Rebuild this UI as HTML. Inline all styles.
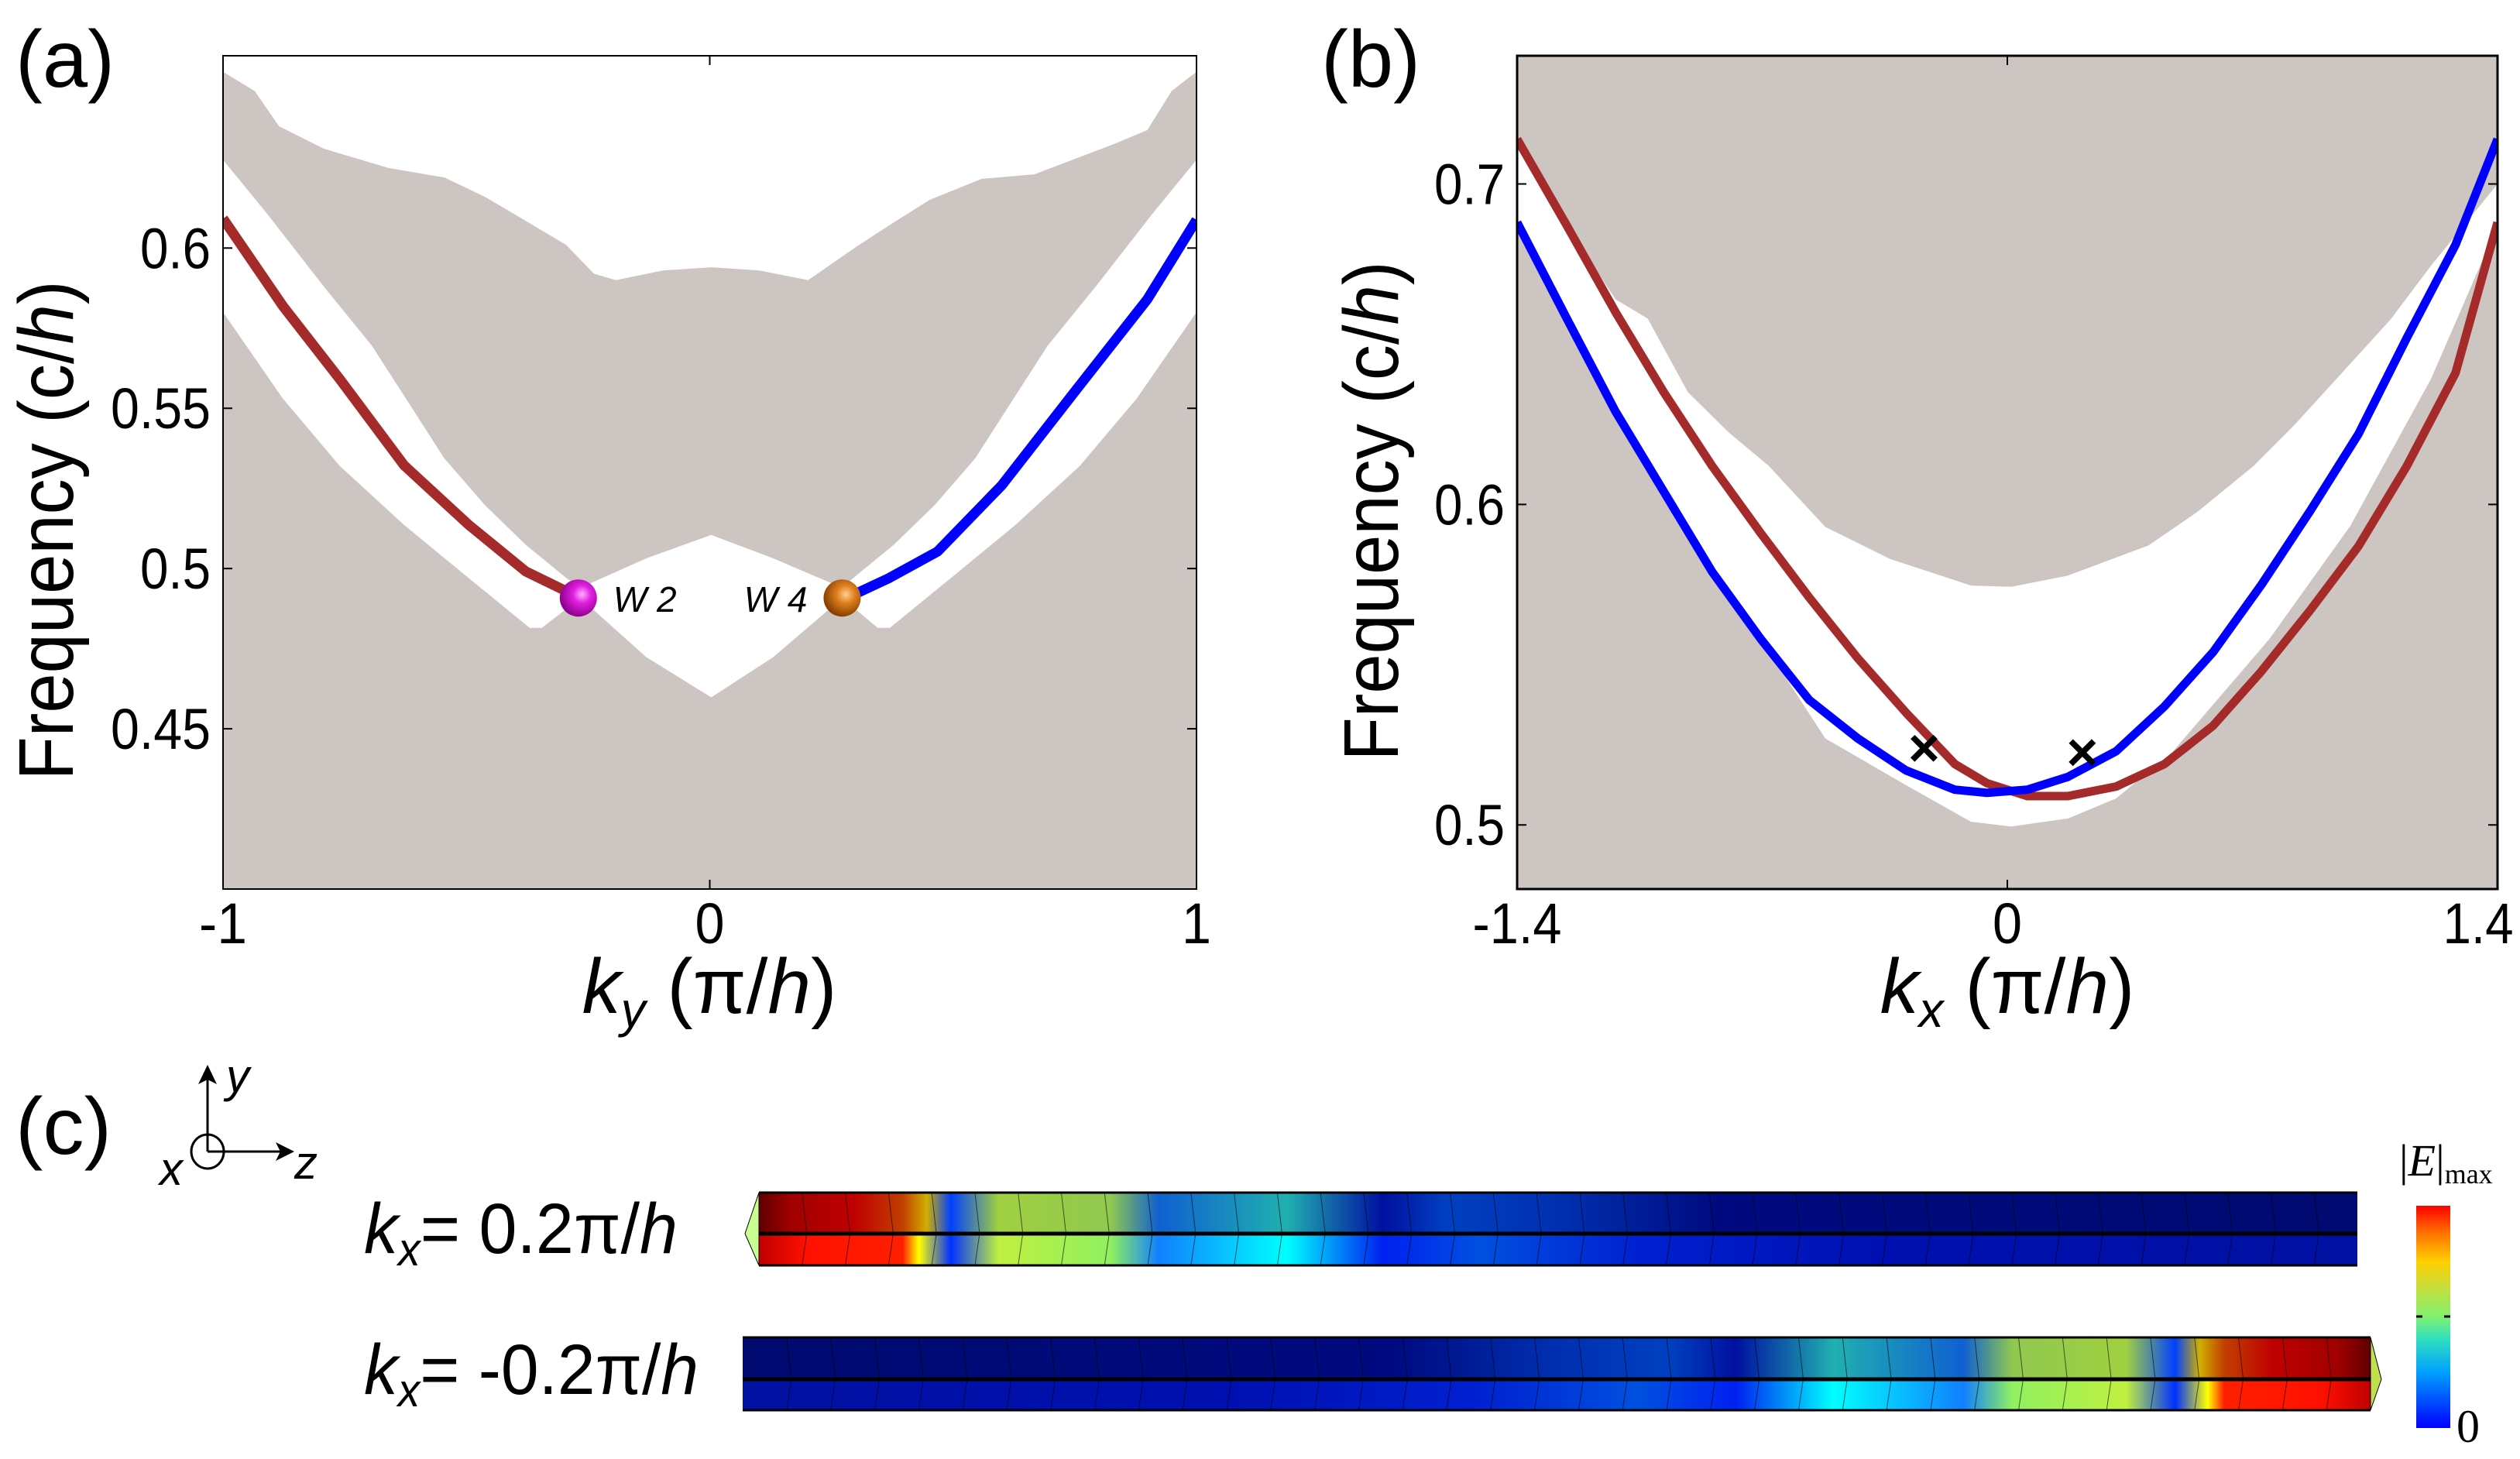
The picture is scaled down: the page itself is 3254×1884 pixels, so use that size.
<!DOCTYPE html>
<html><head><meta charset="utf-8"><style>
html,body{margin:0;padding:0;background:#fff;}
svg{display:block;font-family:"Liberation Sans",Arial,sans-serif;}
</style></head><body>
<svg id="fig" width="3254" height="1884" viewBox="0 0 3254 1884" xmlns="http://www.w3.org/2000/svg">
<defs>
<linearGradient id="jet" x1="0" y1="1" x2="0" y2="0">
<stop offset="0" stop-color="#0000ff"/><stop offset="0.25" stop-color="#00a0ff"/><stop offset="0.4" stop-color="#30e0c0"/><stop offset="0.5" stop-color="#80f070"/><stop offset="0.62" stop-color="#c0e040"/><stop offset="0.75" stop-color="#ffd000"/><stop offset="0.88" stop-color="#ff7000"/><stop offset="1" stop-color="#ff0000"/>
</linearGradient>
<radialGradient id="ballM" cx="0.6" cy="0.4" r="0.6"><stop offset="0" stop-color="#ffb0ff"/><stop offset="0.4" stop-color="#e020e0"/><stop offset="1" stop-color="#900090"/></radialGradient>
<radialGradient id="ballO" cx="0.6" cy="0.4" r="0.6"><stop offset="0" stop-color="#ffd090"/><stop offset="0.4" stop-color="#e08020"/><stop offset="1" stop-color="#884000"/></radialGradient>
<clipPath id="clipA"><rect x="288" y="72" width="1257" height="1076"/></clipPath>
<clipPath id="clipB"><rect x="1959" y="72" width="1266" height="1076"/></clipPath>
</defs>
<g id="gA"></g>
<g id="gB"></g>
<g id="gC"></g>
</svg>
<script>
// ===== Panel (a) data =====
const aTopBoundK = [-1,-0.935,-0.885,-0.793,-0.661,-0.545,-0.462,-0.395,-0.295,-0.238,-0.193,-0.096,0.003,0.102,0.202,0.302,0.368,0.451,0.559,0.667,0.833,0.899,0.949,1];
const aTopBoundF = [0.655,0.649,0.638,0.631,0.625,0.622,0.616,0.610,0.601,0.592,0.590,0.593,0.594,0.593,0.590,0.6005,0.607,0.615,0.6216,0.623,0.6326,0.6368,0.649,0.655];
const aBandUpperK = [-1,-0.910,-0.793,-0.694,-0.545,-0.462,-0.378,-0.295,-0.266,-0.130,0.003,0.130,0.272,0.295,0.378,0.462,0.545,0.694,0.793,0.910,1];
const aBandUpperF = [0.6275,0.6108,0.588,0.5695,0.5343,0.5198,0.5074,0.4971,0.494,0.5032,0.5105,0.5032,0.494,0.4971,0.5074,0.5198,0.5343,0.5695,0.588,0.6108,0.6275];
const aBandLowerK = [1,0.877,0.76,0.628,0.495,0.37,0.345,0.272,0.130,0.003,-0.130,-0.266,-0.345,-0.370,-0.495,-0.628,-0.76,-0.877,-1];
const aBandLowerF = [0.580,0.553,0.532,0.5136,0.497,0.4815,0.4815,0.4908,0.4723,0.4598,0.4723,0.4908,0.4815,0.4815,0.497,0.5136,0.532,0.553,0.580];
const aRedK = [-1,-0.877,-0.76,-0.628,-0.495,-0.378,-0.266];
const aRedF = [0.6092,0.5819,0.5591,0.5322,0.5136,0.4991,0.4908];
const aBlueK = [0.272,0.302,0.368,0.468,0.600,0.749,0.899,1];
const aBlueF = [0.4908,0.4923,0.497,0.5053,0.526,0.555,0.584,0.6088];
const aWeylK = [-0.27,0.272];
const aWeylF = [0.4908,0.4908];
const aWeylLabels = ["W2","W4"];
const aYTicks = [0.45,0.5,0.55,0.6];
const aYTickLabels = ["0.45","0.5","0.55","0.6"];
const aXTicks = [-1,0,1];
const aXTickLabels = ["-1","0","1"];
// ===== Panel (b) data =====
const bUpperK = [-1.40,-1.258,-1.119,-1.027,-0.912,-0.796,-0.681,-0.520,-0.335,-0.104,0.011,0.173,0.403,0.542,0.703,0.818,0.957,1.095,1.21,1.40];
const bUpperF = [0.713,0.687,0.664,0.658,0.635,0.6225,0.612,0.593,0.583,0.5747,0.5743,0.5778,0.5872,0.5976,0.612,0.6246,0.6412,0.6578,0.6745,0.700];
const bLowerK = [1.40,1.21,0.980,0.749,0.472,0.311,0.173,0.011,-0.104,-0.289,-0.520,-0.704,-0.843,-0.981,-1.119,-1.258,-1.40];
const bLowerF = [0.687,0.6392,0.5934,0.5581,0.5228,0.5083,0.502,0.4995,0.501,0.5124,0.527,0.558,0.579,0.604,0.629,0.658,0.688];
const bRedK = [-1.40,-1.258,-1.119,-0.981,-0.843,-0.704,-0.566,-0.427,-0.289,-0.150,-0.058,0.057,0.173,0.311,0.449,0.588,0.726,0.865,1.003,1.141,1.280,1.40];
const bRedF = [0.714,0.687,0.660,0.635,0.612,0.591,0.571,0.552,0.535,0.519,0.513,0.509,0.509,0.512,0.519,0.531,0.548,0.567,0.587,0.612,0.641,0.688];
const bBlueK = [-1.40,-1.258,-1.119,-0.981,-0.843,-0.704,-0.566,-0.427,-0.289,-0.150,-0.058,0.057,0.173,0.311,0.449,0.588,0.726,0.865,1.003,1.141,1.280,1.40];
const bBlueF = [0.688,0.658,0.629,0.604,0.579,0.558,0.539,0.527,0.517,0.511,0.510,0.511,0.515,0.523,0.537,0.554,0.575,0.598,0.622,0.652,0.681,0.714];
const bCrossK = [-0.238,0.214];
const bCrossF = [0.5224,0.5211];
const bYTicks = [0.5,0.6,0.7];
const bYTickLabels = ["0.5","0.6","0.7"];
const bXTicks = [-1.4,0,1.4];
const bXTickLabels = ["-1.4","0","1.4"];
// ===== Panel (c) field profiles (fraction along waveguide, colour) =====
const c1TopPos = [0,0.02,0.06,0.09,0.105,0.12,0.15,0.22,0.25,0.33,0.39,0.43,0.5,0.6,1];
const c1TopCol = ["#600000","#a00000","#c00000","#c04000","#d0b000","#0040ff","#a0d040","#90c850","#1060d0","#20b0b0","#0010a0","#0040c0","#0030b0","#000a80","#000a70"];
const c1BotPos = [0,0.03,0.09,0.1,0.12,0.15,0.22,0.25,0.33,0.39,0.45,0.55,0.7,1];
const c1BotCol = ["#c00000","#ff1000","#ff2000","#ffff00","#0030ff","#c0f040","#90f060","#1080ff","#00ffff","#0020f0","#0050e0","#0020d0","#0010b0","#0010a0"];

const NS="http://www.w3.org/2000/svg";
function mk(tag,parent,attrs){const e=document.createElementNS(NS,tag);for(const k in attrs)e.setAttribute(k,attrs[k]);parent.appendChild(e);return e;}
function txt(parent,x,y,s,size,anchor,extra){const e=mk('text',parent,Object.assign({x:x,y:y,'font-size':size,'text-anchor':anchor||'start',fill:'#000'},extra||{}));e.textContent=s;return e;}
function tickW(s){let w=0;for(const c of s){w+= c=='.'?15:(c=='-'?24:38);}return w;}
function tick(parent,x,y,s,anchor){const t=txt(parent,x,y,s,74,anchor,{textLength:tickW(s),lengthAdjust:'spacingAndGlyphs'});return t;}

function axes(L,R,T,B,kmin,kmax,fmin,fmax){
  return {x:k=>L+(k-kmin)/(kmax-kmin)*(R-L), y:f=>B-(f-fmin)/(fmax-fmin)*(B-T)};
}
function pts(ax,K,F){return K.map((k,i)=>ax.x(k).toFixed(1)+','+ax.y(F[i]).toFixed(1));}

// ---------- Panel A ----------
(function(){
const g=document.getElementById('gA');
const L=288,R=1545,T=72,B=1148;
const ax=axes(L,R,T,B,-1,1,0.4,0.66);
const cg=mk('g',g,{'clip-path':'url(#clipA)'});
let e=mk('rect',cg,{x:L,y:T,width:R-L,height:B-T,fill:'#cdc5c1'});

let top=[ax.x(-1)+','+T].concat(pts(ax,aTopBoundK,aTopBoundF)).concat([ax.x(1)+','+T]);
e=mk('polygon',cg,{points:top.join(' '),fill:'#fff'});

let band=pts(ax,aBandUpperK,aBandUpperF).concat(pts(ax,aBandLowerK,aBandLowerF));
e=mk('polygon',cg,{points:band.join(' '),fill:'#fff'});

e=mk('polyline',cg,{points:pts(ax,aRedK,aRedF).join(' '),fill:'none',stroke:'#a52a2a','stroke-width':13,'stroke-linejoin':'round'});

e=mk('polyline',cg,{points:pts(ax,aBlueK,aBlueF).join(' '),fill:'none',stroke:'#0000ff','stroke-width':13,'stroke-linejoin':'round'});

e=mk('rect',g,{x:L,y:T,width:R-L,height:B-T,fill:'none',stroke:'#000','stroke-width':2});

aWeylK.forEach((k,i)=>{
  const b=mk('circle',g,{cx:ax.x(k),cy:ax.y(aWeylF[i]),r:24,fill:i==0?'url(#ballM)':'url(#ballO)'});
  
  const lx=i==0?ax.x(k)+45:ax.x(k)-45;
  const t=txt(g,lx,ax.y(aWeylF[i])+18,'',46,i==0?'start':'end',{'font-style':'italic'});
  t.textContent=aWeylLabels[i].replace(/(\d)/,' $1');
  
});
aYTicks.forEach((v,i)=>{
  const y=ax.y(v);
  mk('line',g,{x1:L,y1:y,x2:L+12,y2:y,stroke:'#000','stroke-width':2});
  mk('line',g,{x1:R,y1:y,x2:R-12,y2:y,stroke:'#000','stroke-width':2});
  const t=tick(g,272,y+26,aYTickLabels[i],'end');
  
});
aXTicks.forEach((v,i)=>{
  const x=ax.x(v);
  mk('line',g,{x1:x,y1:B,x2:x,y2:B-12,stroke:'#000','stroke-width':2});
  mk('line',g,{x1:x,y1:T,x2:x,y2:T+12,stroke:'#000','stroke-width':2});
  const t=tick(g,x,1218,aXTickLabels[i],'middle');
  
});
let t=txt(g,20,112,'(a)',104,'start',{textLength:128,lengthAdjust:'spacingAndGlyphs'});
t=mk('text',g,{x:0,y:0,'font-size':100,'text-anchor':'middle',textLength:645,lengthAdjust:'spacingAndGlyphs',transform:'translate(94,685) rotate(-90)',fill:'#000'});
t.innerHTML='Frequency (c/<tspan font-style="italic">h</tspan>)';

t=mk('text',g,{x:916,y:1308,'font-size':100,'text-anchor':'middle',fill:'#000'});
t.innerHTML='<tspan font-style="italic">k</tspan><tspan font-style="italic" font-size="64" dy="18">y</tspan><tspan dy="-18"> (π/</tspan><tspan font-style="italic">h</tspan>)';

})();

// ---------- Panel B ----------
(function(){
const g=document.getElementById('gB');
const L=1959,R=3225,T=72,B=1148;
const ax=axes(L,R,T,B,-1.4,1.4,0.48,0.74);
const cg=mk('g',g,{'clip-path':'url(#clipB)'});
let e=mk('rect',cg,{x:L,y:T,width:R-L,height:B-T,fill:'#cdc5c1'});

e=mk('polygon',cg,{points:pts(ax,bUpperK,bUpperF).concat(pts(ax,bLowerK,bLowerF)).join(' '),fill:'#fff','stroke-linejoin':'round'});

e=mk('polyline',cg,{points:pts(ax,bRedK,bRedF).join(' '),fill:'none',stroke:'#a52a2a','stroke-width':11,'stroke-linejoin':'round'});

e=mk('polyline',cg,{points:pts(ax,bBlueK,bBlueF).join(' '),fill:'none',stroke:'#0000ff','stroke-width':11,'stroke-linejoin':'round'});

bCrossK.forEach((k,i)=>{
  const t=txt(g,ax.x(k),ax.y(bCrossF[i])+17,'×',70,'middle',{'font-weight':'bold'});
  
});
e=mk('rect',g,{x:L,y:T,width:R-L,height:B-T,fill:'none',stroke:'#000','stroke-width':3});

bYTicks.forEach((v,i)=>{
  const y=ax.y(v);
  mk('line',g,{x1:L,y1:y,x2:L+12,y2:y,stroke:'#000','stroke-width':2});
  mk('line',g,{x1:R,y1:y,x2:R-12,y2:y,stroke:'#000','stroke-width':2});
  const t=tick(g,1943,y+26,bYTickLabels[i],'end');
  
});
bXTicks.forEach((v,i)=>{
  const x=ax.x(v);
  mk('line',g,{x1:x,y1:B,x2:x,y2:B-12,stroke:'#000','stroke-width':2});
  mk('line',g,{x1:x,y1:T,x2:x,y2:T+12,stroke:'#000','stroke-width':2});
  const t=tick(g,Math.min(x,3200),1218,bXTickLabels[i],'middle');
  
});
let t=txt(g,1706,112,'(b)',104,'start',{textLength:128,lengthAdjust:'spacingAndGlyphs'});
t=mk('text',g,{x:0,y:0,'font-size':100,'text-anchor':'middle',textLength:645,lengthAdjust:'spacingAndGlyphs',transform:'translate(1805,660) rotate(-90)',fill:'#000'});
t.innerHTML='Frequency (c/<tspan font-style="italic">h</tspan>)';

t=mk('text',g,{x:2592,y:1308,'font-size':100,'text-anchor':'middle',fill:'#000'});
t.innerHTML='<tspan font-style="italic">k</tspan><tspan font-style="italic" font-size="64" dy="18">x</tspan><tspan dy="-18"> (π/</tspan><tspan font-style="italic">h</tspan>)';

})();

// ---------- Panel C ----------
(function(){
const g=document.getElementById('gC');
const defs=document.querySelector('defs');
function grad(id,pos,col,rev){
  const lg=mk('linearGradient',defs,{id:id,x1:0,y1:0,x2:1,y2:0});
  pos.forEach((p,i)=>mk('stop',lg,{offset:rev?1-p:p,'stop-color':col[i]}));
  if(rev){const s=[...lg.children].reverse();s.forEach(c=>lg.appendChild(c));}
}
grad('c1t',c1TopPos,c1TopCol,false);grad('c1b',c1BotPos,c1BotCol,false);
grad('c2t',c1TopPos,c1TopCol,true);grad('c2b',c1BotPos,c1BotCol,true);
function bar(x0,x1,yt,ym,yb,gt,gb,name,capLeft){
  const bg=mk('g',g,{});
  
  mk('rect',bg,{x:x0,y:yt,width:x1-x0,height:ym-yt,fill:'url(#'+gt+')'});
  mk('rect',bg,{x:x0,y:ym,width:x1-x0,height:yb-ym,fill:'url(#'+gb+')'});
  const n=37,w=(x1-x0)/n;
  for(let i=1;i<n;i++){const x=x0+i*w;
    mk('polyline',bg,{points:(x)+','+yt+' '+(x+6)+','+ym+' '+x+','+yb,fill:'none',stroke:'#000','stroke-width':1,'stroke-opacity':0.6});}
  mk('line',bg,{x1:x0,y1:ym,x2:x1,y2:ym,stroke:'#000','stroke-width':5});
  mk('line',bg,{x1:x0,y1:yt,x2:x1,y2:yt,stroke:'#000','stroke-width':3});
  mk('line',bg,{x1:x0,y1:yb,x2:x1,y2:yb,stroke:'#000','stroke-width':3});
  if(capLeft){mk('polygon',bg,{points:x0+','+yt+' '+(x0-18)+','+ym+' '+x0+','+yb,fill:'#c8ff90',stroke:'#000','stroke-width':1});}
  else{mk('polygon',bg,{points:x1+','+yt+' '+(x1+14)+','+ym+' '+x1+','+yb,fill:'#c0e050',stroke:'#000','stroke-width':1});}
}
bar(980,3044,1540,1593,1634,'c1t','c1b','field-profile-positive-kx',true);
bar(959,3061,1727,1781,1821,'c2t','c2b','field-profile-negative-kx',false);
let t=txt(g,20,1490,'(c)',104,'start',{textLength:124,lengthAdjust:'spacingAndGlyphs'});
const ic=mk('g',g,{});
mk('line',ic,{x1:268,y1:1487,x2:268,y2:1385,stroke:'#000','stroke-width':3});
mk('polygon',ic,{points:'268,1375 256,1400 268,1394 280,1400',fill:'#000'});
mk('line',ic,{x1:268,y1:1487,x2:370,y2:1487,stroke:'#000','stroke-width':3});
mk('polygon',ic,{points:'380,1487 356,1475 362,1487 356,1499',fill:'#000'});
mk('ellipse',ic,{cx:268,cy:1487,rx:21,ry:22,fill:'none',stroke:'#000','stroke-width':3});
txt(ic,292,1410,'y',60,'start',{'font-style':'italic'});
txt(ic,380,1522,'z',60,'start',{'font-style':'italic'});
txt(ic,206,1530,'x',60,'start',{'font-style':'italic'});
t=mk('text',g,{x:470,y:1618,'font-size':92,fill:'#000',textLength:405,lengthAdjust:'spacingAndGlyphs'});
t.innerHTML='<tspan font-style="italic">k</tspan><tspan font-style="italic" font-size="60" dy="16">x</tspan><tspan dy="-16">= 0.2π/</tspan><tspan font-style="italic">h</tspan>';

t=mk('text',g,{x:470,y:1800,'font-size':92,fill:'#000',textLength:432,lengthAdjust:'spacingAndGlyphs'});
t.innerHTML='<tspan font-style="italic">k</tspan><tspan font-style="italic" font-size="60" dy="16">x</tspan><tspan dy="-16">= -0.2π/</tspan><tspan font-style="italic">h</tspan>';

let e=mk('rect',g,{x:3120,y:1557,width:44,height:287,fill:'url(#jet)'});

mk('line',g,{x1:3120,y1:1700,x2:3128,y2:1700,stroke:'#000','stroke-width':3});
mk('line',g,{x1:3156,y1:1700,x2:3164,y2:1700,stroke:'#000','stroke-width':3});
t=mk('text',g,{x:3098,y:1518,'font-size':58,'font-family':'Liberation Serif, serif',fill:'#000'});
t.innerHTML='|<tspan font-style="italic">E</tspan>|<tspan font-size="36" dy="10">max</tspan>';

t=txt(g,3172,1862,'0',60,'start',{'font-family':'Liberation Serif, serif'});

})();
</script>
</body></html>
